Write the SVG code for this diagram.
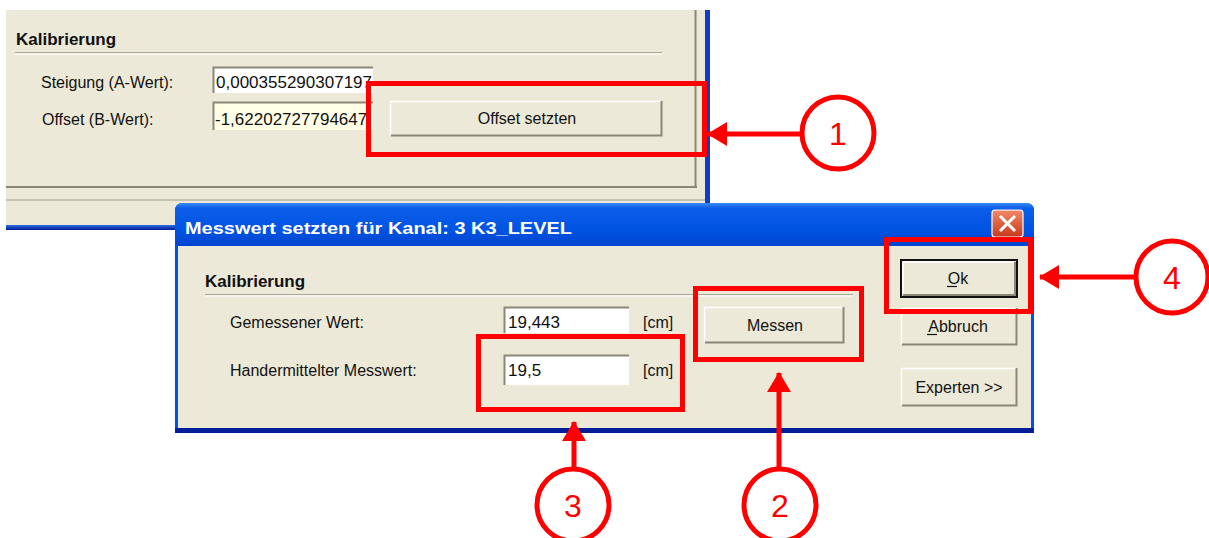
<svg xmlns="http://www.w3.org/2000/svg" width="1209" height="538" viewBox="0 0 1209 538">
<defs>
<style>
.lbl{font-family:"Liberation Sans",Arial,sans-serif;font-size:16px;fill:#111}
.val{font-family:"Liberation Sans",Arial,sans-serif;font-size:17px;fill:#111}
.hd{font-family:"Liberation Sans",Arial,sans-serif;font-size:17px;font-weight:bold;fill:#111}
.num{font-family:"Liberation Sans",Arial,sans-serif;font-size:32px;fill:#f00;text-anchor:middle}
.red{fill:none;stroke:#f00;stroke-width:5}
.conn{stroke:#f00;stroke-width:5;fill:none}
.btn{fill:#ECE9D8}
.hl{stroke:#fff;stroke-width:1.5;fill:none}
.sh{stroke:#8a8778;stroke-width:2;fill:none}
.tb{fill:#fff;stroke:none}
</style>
<clipPath id="clipA"><rect x="213" y="67" width="160" height="26"/></clipPath>
<clipPath id="clipB"><rect x="213" y="102" width="160" height="28"/></clipPath>
<linearGradient id="title" x1="0" y1="0" x2="0" y2="1">
<stop offset="0" stop-color="#3D8AF7"/>
<stop offset="0.12" stop-color="#0A5EE8"/>
<stop offset="0.6" stop-color="#0054E3"/>
<stop offset="1" stop-color="#0046D0"/>
</linearGradient>
<linearGradient id="bar" x1="0" y1="0" x2="0" y2="1">
<stop offset="0" stop-color="#2F6FE0"/>
<stop offset="1" stop-color="#001A9A"/>
</linearGradient>
<linearGradient id="close" x1="0" y1="0" x2="0" y2="1">
<stop offset="0" stop-color="#F08A6A"/>
<stop offset="1" stop-color="#C8381A"/>
</linearGradient>
<marker id="ah" markerUnits="userSpaceOnUse" markerWidth="20" markerHeight="24" refX="19" refY="12" orient="auto">
<path d="M0,0 L20,12 L0,24 Z" fill="#f00"/>
</marker>
</defs>

<!-- background window -->
<g id="bgwindow">
<rect x="6" y="10" width="700" height="220" fill="#ECE9D8"/>
<rect x="705" y="10" width="5" height="220" fill="#0C3CC8"/>
<line x1="695.5" y1="10" x2="695.5" y2="188" stroke="#8a8778" stroke-width="2"/>
<line x1="6" y1="187" x2="697" y2="187" stroke="#8a8778" stroke-width="2"/>
<line x1="6" y1="200" x2="705" y2="200" stroke="#b8b5a6" stroke-width="1.5"/>
<rect x="6" y="225" width="704" height="5" fill="url(#bar)"/>
<text class="hd" x="16" y="45">Kalibrierung</text>
<line x1="15" y1="52.5" x2="662" y2="52.5" stroke="#aca899" stroke-width="1.2"/>
<line x1="15" y1="54" x2="662" y2="54" stroke="#fff" stroke-width="1"/>
<text class="lbl" x="41" y="88">Steigung (A-Wert):</text>
<text class="lbl" x="42" y="125">Offset (B-Wert):</text>
<g id="tbA">
<rect x="213" y="67" width="160" height="26" class="tb"/>
<path d="M213.5,93 V67.5 H373" stroke="#8a8778" stroke-width="2" fill="none"/>
<text class="val" x="216" y="88" clip-path="url(#clipA)">0,000355290307197</text>
</g>
<g id="tbB">
<rect x="213" y="102" width="160" height="28" fill="#FFFFE6"/>
<path d="M213.5,130 V102.5 H373" stroke="#8a8778" stroke-width="2" fill="none"/>
<text class="val" x="215" y="125" clip-path="url(#clipB)">-1,62202727794647</text>
</g>
<g id="btnOffset">
<rect x="390" y="101" width="272" height="35" class="btn"/>
<path d="M390.5,135 V101.5 H661" class="hl"/>
<path d="M391,135.5 H661.5 V101" class="sh"/>
<text class="lbl" x="527" y="124" text-anchor="middle">Offset setzten</text>
</g>
</g>

<!-- dialog -->
<g id="dialog">
<path d="M175,433 V211 Q175,203 183,203 H1026 Q1034,203 1034,211 V433 Z" fill="#0054E3"/>
<path d="M175,246 V211 Q175,203 183,203 H1026 Q1034,203 1034,211 V246 Z" fill="url(#title)"/>
<rect x="175" y="428" width="859" height="5" fill="#001E9A"/>
<rect x="178" y="246" width="853" height="182" fill="#ECE9D8"/>
<text x="185" y="234" textLength="387" lengthAdjust="spacingAndGlyphs" style="font-family:'Liberation Sans',Arial,sans-serif;font-size:17px;font-weight:bold;fill:#fff">Messwert setzten für Kanal: 3 K3_LEVEL</text>
<g id="closebtn">
<rect x="992" y="210" width="31" height="27" rx="3" fill="url(#close)" stroke="#fff" stroke-width="1.2"/>
<path d="M1000,216 L1015,231 M1015,216 L1000,231" stroke="#fff" stroke-width="3"/>
</g>
<text class="hd" x="205" y="287">Kalibrierung</text>
<line x1="205" y1="294.5" x2="853" y2="294.5" stroke="#aca899" stroke-width="1.2"/>
<line x1="205" y1="296" x2="853" y2="296" stroke="#fff" stroke-width="1"/>
<text class="lbl" x="230" y="328">Gemessener Wert:</text>
<text class="lbl" x="230" y="376">Handermittelter Messwert:</text>
<g id="tbGem">
<rect x="504" y="307" width="125" height="26" class="tb"/>
<path d="M504.5,333 V307.5 H629" stroke="#8a8778" stroke-width="2" fill="none"/>
<text class="val" x="508" y="328">19,443</text>
</g>
<text class="lbl" x="643" y="328">[cm]</text>
<g id="tbHand">
<rect x="504" y="355" width="125" height="30" class="tb"/>
<path d="M504.5,385 V355.5 H629" stroke="#8a8778" stroke-width="2" fill="none"/>
<text class="val" x="508" y="376">19,5</text>
</g>
<text class="lbl" x="643" y="376">[cm]</text>
<g id="btnMessen">
<rect x="704" y="307" width="140" height="36" class="btn"/>
<path d="M704.5,342 V307.5 H843" class="hl"/>
<path d="M705,342.5 H843.5 V307" class="sh"/>
<text class="lbl" x="775" y="331" text-anchor="middle">Messen</text>
</g>
<g id="btnOk">
<rect x="901" y="260" width="116" height="37" class="btn" stroke="#111" stroke-width="2"/>
<path d="M903,294 V262 H1015" class="hl"/>
<path d="M903,295 H1015 V262" class="sh"/>
<text class="lbl" x="958" y="284" text-anchor="middle">Ok</text>
<line x1="947" y1="286.5" x2="957" y2="286.5" stroke="#111" stroke-width="1.2"/>
</g>
<g id="btnAbbruch">
<rect x="901" y="308" width="116" height="37" class="btn"/>
<path d="M901.5,344 V308.5 H1016" class="hl"/>
<path d="M902,344.5 H1016.5 V308" class="sh"/>
<text class="lbl" x="958" y="332" text-anchor="middle">Abbruch</text>
<line x1="927" y1="334.5" x2="937" y2="334.5" stroke="#111" stroke-width="1.2"/>
</g>
<g id="btnExperten">
<rect x="901" y="368" width="116" height="38" class="btn"/>
<path d="M901.5,405 V368.5 H1016" class="hl"/>
<path d="M902,405.5 H1016.5 V368" class="sh"/>
<text class="lbl" x="959" y="393" text-anchor="middle">Experten &gt;&gt;</text>
</g>
</g>

<!-- highlight boxes -->
<g id="box1"><rect x="368.5" y="83.5" width="336" height="71" class="red"/></g>
<g id="box2"><rect x="695.5" y="288.5" width="166" height="71" class="red"/></g>
<g id="box3"><rect x="478.5" y="336.5" width="204" height="73" class="red"/></g>
<g id="box4"><rect x="886.5" y="239.5" width="144" height="72" class="red"/></g>

<!-- callouts -->
<g id="callout1"><circle cx="838" cy="133" r="36" class="red"/><text class="num" x="838" y="145">1</text></g>
<g id="callout2"><circle cx="780" cy="505" r="36" class="red"/><text class="num" x="780" y="517">2</text></g>
<g id="callout3"><circle cx="573" cy="505" r="36" class="red"/><text class="num" x="573" y="517">3</text></g>
<g id="callout4"><circle cx="1172" cy="277" r="36" class="red"/><text class="num" x="1172" y="289">4</text></g>

<!-- connectors -->
<g id="connectors">
<line x1="800" y1="134" x2="708" y2="134" class="conn" marker-end="url(#ah)"/>
<line x1="779" y1="467" x2="779" y2="373" class="conn" marker-end="url(#ah)"/>
<line x1="574" y1="467" x2="574" y2="422" class="conn" marker-end="url(#ah)"/>
<line x1="1134" y1="277" x2="1040" y2="277" class="conn" marker-end="url(#ah)"/>
</g>
</svg>
